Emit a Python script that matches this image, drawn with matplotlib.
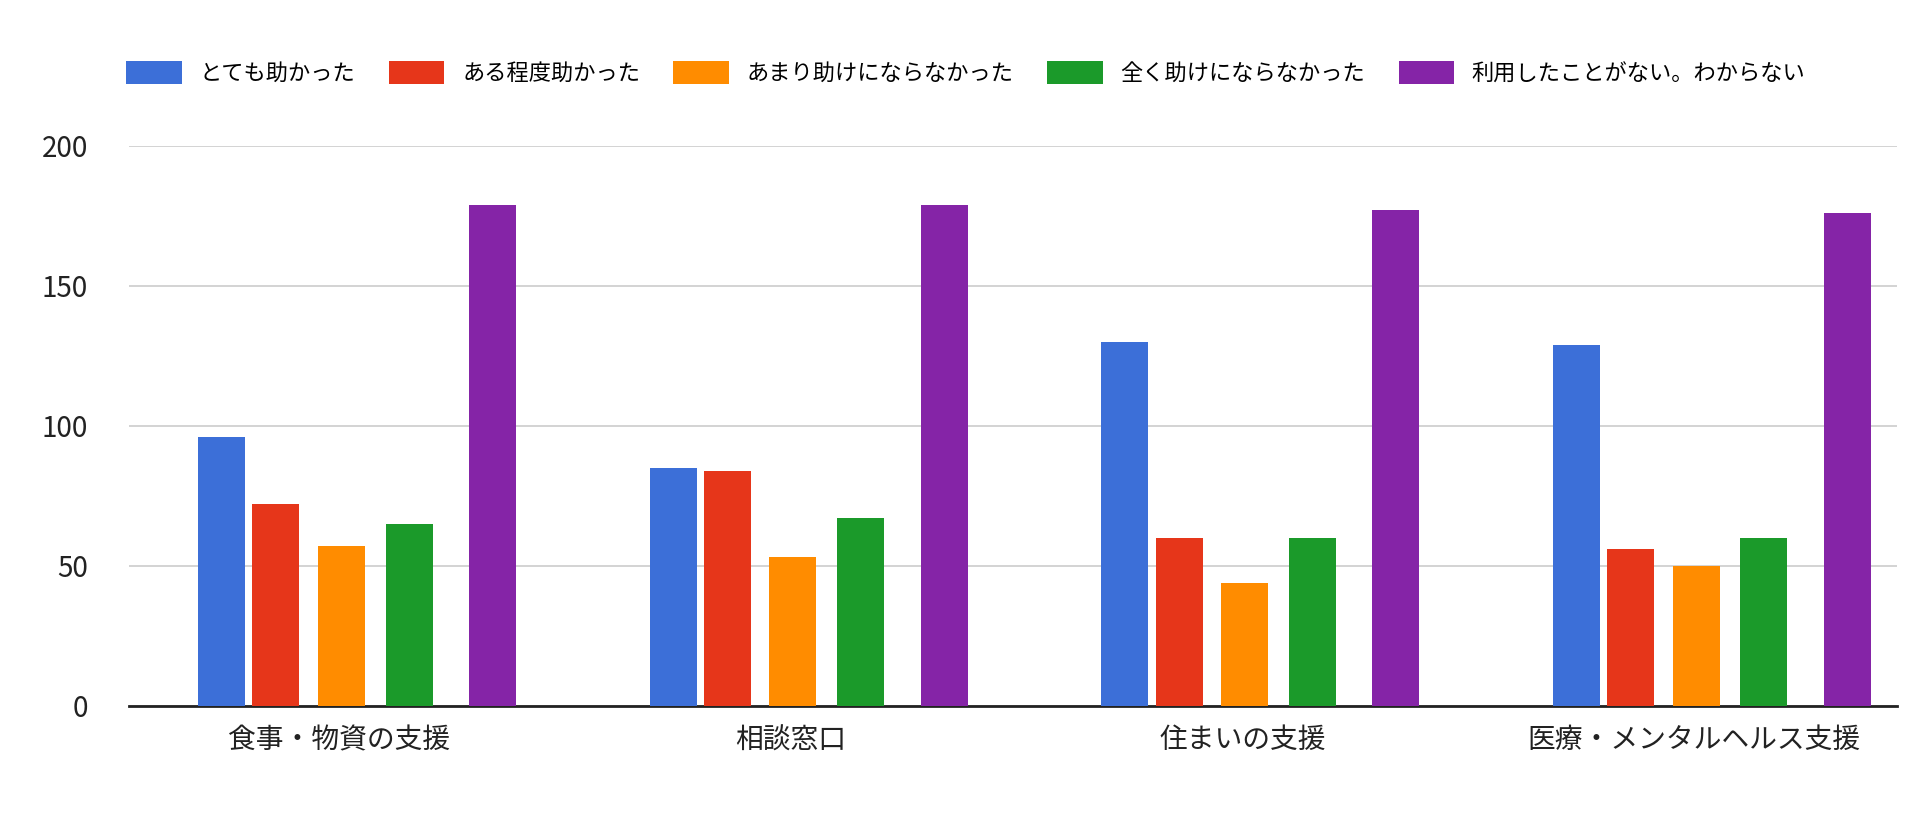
import matplotlib
matplotlib.use('Agg')
import matplotlib.pyplot as plt
import numpy as np

plt.rcParams['font.family'] = ['Noto Sans CJK JP', 'DejaVu Sans']

categories = ['食事・物資の支援', '相談窓口', '住まいの支援', '医療・メンタルヘルス支援']
series_names = ['とても助かった', 'ある程度助かった', 'あまり助けにならなかった', '全く助けにならなかった', '利用したことがない。わからない']
values = [
    [96, 85, 130, 129],
    [72, 84, 60, 56],
    [57, 53, 44, 50],
    [65, 67, 60, 60],
    [179, 179, 177, 176],
]
colors = ['#3c6fd8', '#e6361a', '#ff8c00', '#1b9a2a', '#8524a7']
offsets = [-0.30, -0.18, -0.035, 0.115, 0.30]

fig = plt.figure(figsize=(19.32, 8.14), dpi=100)
ax = fig.add_axes([0.067, 0.133, 0.915, 0.688])
x = np.arange(len(categories))
for name, vals, c, off in zip(series_names, values, colors, offsets):
    ax.bar(x + off, vals, width=0.104, color=c, label=name, zorder=3)

ax.set_ylim(0, 200)
ax.set_xlim(-0.504, 3.41)
ax.set_yticks([0, 50, 100, 150, 200])
ax.yaxis.grid(True, color='#cccccc', linewidth=1.2, zorder=0)
ax.set_xticks(x - 0.04)
ax.set_xticklabels(categories)
ax.tick_params(axis='both', length=0, labelsize=20, colors='#222222')
ax.tick_params(axis='x', pad=14)
ax.tick_params(axis='y', pad=30)
for s in ['top', 'right', 'left']:
    ax.spines[s].set_visible(False)
ax.spines['bottom'].set_linewidth(2)
ax.spines['bottom'].set_color('#222222')

fig.legend(loc='center', bbox_to_anchor=(0.5, 0.91), ncol=5, frameon=False,
           fontsize=16, handlelength=2.5, handleheight=1.2, columnspacing=1.5)
fig.savefig('out.png', dpi=100)
